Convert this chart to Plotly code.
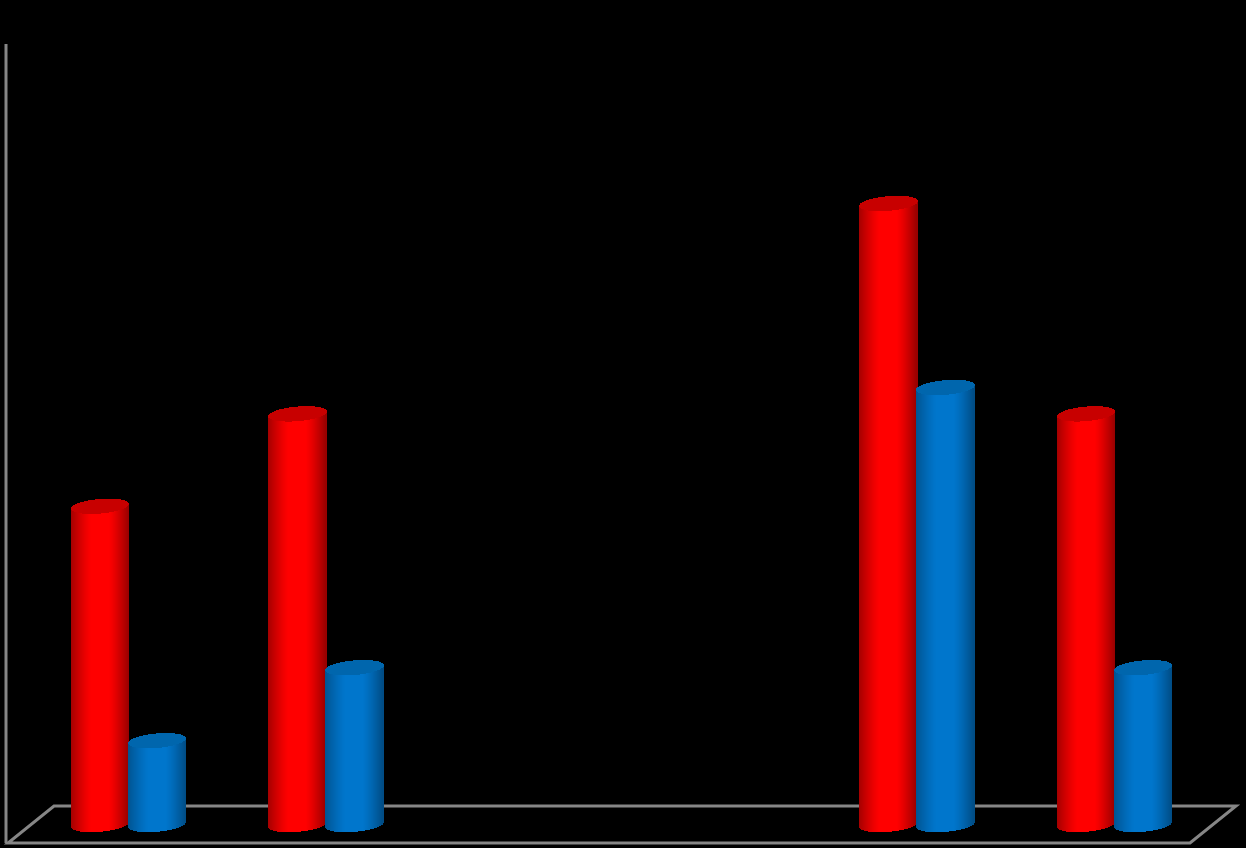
import numpy as np
import plotly.graph_objects as go

categories = ['A', 'B', 'C', 'D', 'E', 'F']
red_values = [20.5, 26.45, None, None, 40.0, 26.45]
blue_values = [5.4, 10.1, None, None, 28.15, 10.1]

WIDTH = 1246
HEIGHT = 848
CAT_PX = 197.2      # pixels between categories
FIRST_CAT_PX = 128.5
VALUE_PX = 15.525   # pixels per value unit
BASE_PX = 824.5
BAR_W = 58 / CAT_PX
OFFSET = 28.5 / CAT_PX
ELLIPSE = 7.3 / VALUE_PX
TILT = 2.4 / VALUE_PX
GREY = '#868686'


def shade(u, mid, left, right):
    # cylinder look: flat in the middle, falls off towards both edges
    edge = left if u < 0 else right
    t = np.clip((abs(u) - 0.3) / 0.7, 0, 1) ** 1.25
    c = [m + (e - m) * t for m, e in zip(mid, edge)]
    return 'rgb(%d,%d,%d)' % tuple(c)


def cylinder_traces(values, shift, mid, left, right, top_color):
    xs, bases, heights, colors = [], [], [], []
    top_xs, top_bases, top_heights = [], [], []
    us = (np.arange(58) + 0.5) / 29 - 1
    for i, v in enumerate(values):
        if v is None:
            continue
        for u in us:
            s = np.sqrt(1 - u ** 2)
            centre = TILT * u
            x = i + shift + u * BAR_W / 2
            low = centre - ELLIPSE * s
            xs.append(x)
            bases.append(low)
            heights.append(v)
            colors.append(shade(u, mid, left, right))
            top_xs.append(x)
            top_bases.append(v + low)
            top_heights.append(2 * ELLIPSE * s)
    strip = BAR_W / 58
    body = go.Bar(x=xs, y=heights, base=bases, width=strip,
                  marker=dict(color=colors, line_width=0), hoverinfo='skip')
    top = go.Bar(x=top_xs, y=top_heights, base=top_bases, width=strip,
                 marker=dict(color=top_color, line_width=0), hoverinfo='skip')
    return [body, top]


def px_x(p):
    return p / WIDTH


def px_y(p):
    return 1 - p / HEIGHT


fig = go.Figure()
for tr in cylinder_traces(red_values, -OFFSET, (255, 0, 0), (165, 0, 0), (150, 0, 0), '#c80000'):
    fig.add_trace(tr)
for tr in cylinder_traces(blue_values, OFFSET, (0, 118, 204), (0, 84, 146), (0, 76, 132), '#0066ad'):
    fig.add_trace(tr)

# floor and left wall of the 3d frame
floor = 'M %f %f L %f %f L %f %f L %f %f Z' % (
    px_x(8), px_y(843), px_x(1190), px_y(843), px_x(1236), px_y(806), px_x(54), px_y(806))
fig.add_shape(type='path', path=floor, xref='paper', yref='paper', layer='below',
              line=dict(color=GREY, width=3))
fig.add_shape(type='line', x0=px_x(6), x1=px_x(6), y0=px_y(44), y1=px_y(843), xref='paper', yref='paper',
              layer='below', line=dict(color=GREY, width=3))

fig.update_layout(
    width=WIDTH, height=HEIGHT,
    margin=dict(l=0, r=0, t=0, b=0),
    paper_bgcolor='black', plot_bgcolor='black',
    barmode='overlay', bargap=0, showlegend=False,
    xaxis=dict(visible=False, range=[-FIRST_CAT_PX / CAT_PX, (WIDTH - FIRST_CAT_PX) / CAT_PX]),
    yaxis=dict(visible=False, range=[(BASE_PX - HEIGHT) / VALUE_PX, BASE_PX / VALUE_PX]),
)
fig.write_html("out.html", config={'displayModeBar': False},
               post_script="document.body.style.margin='0';document.body.style.background='black';")
